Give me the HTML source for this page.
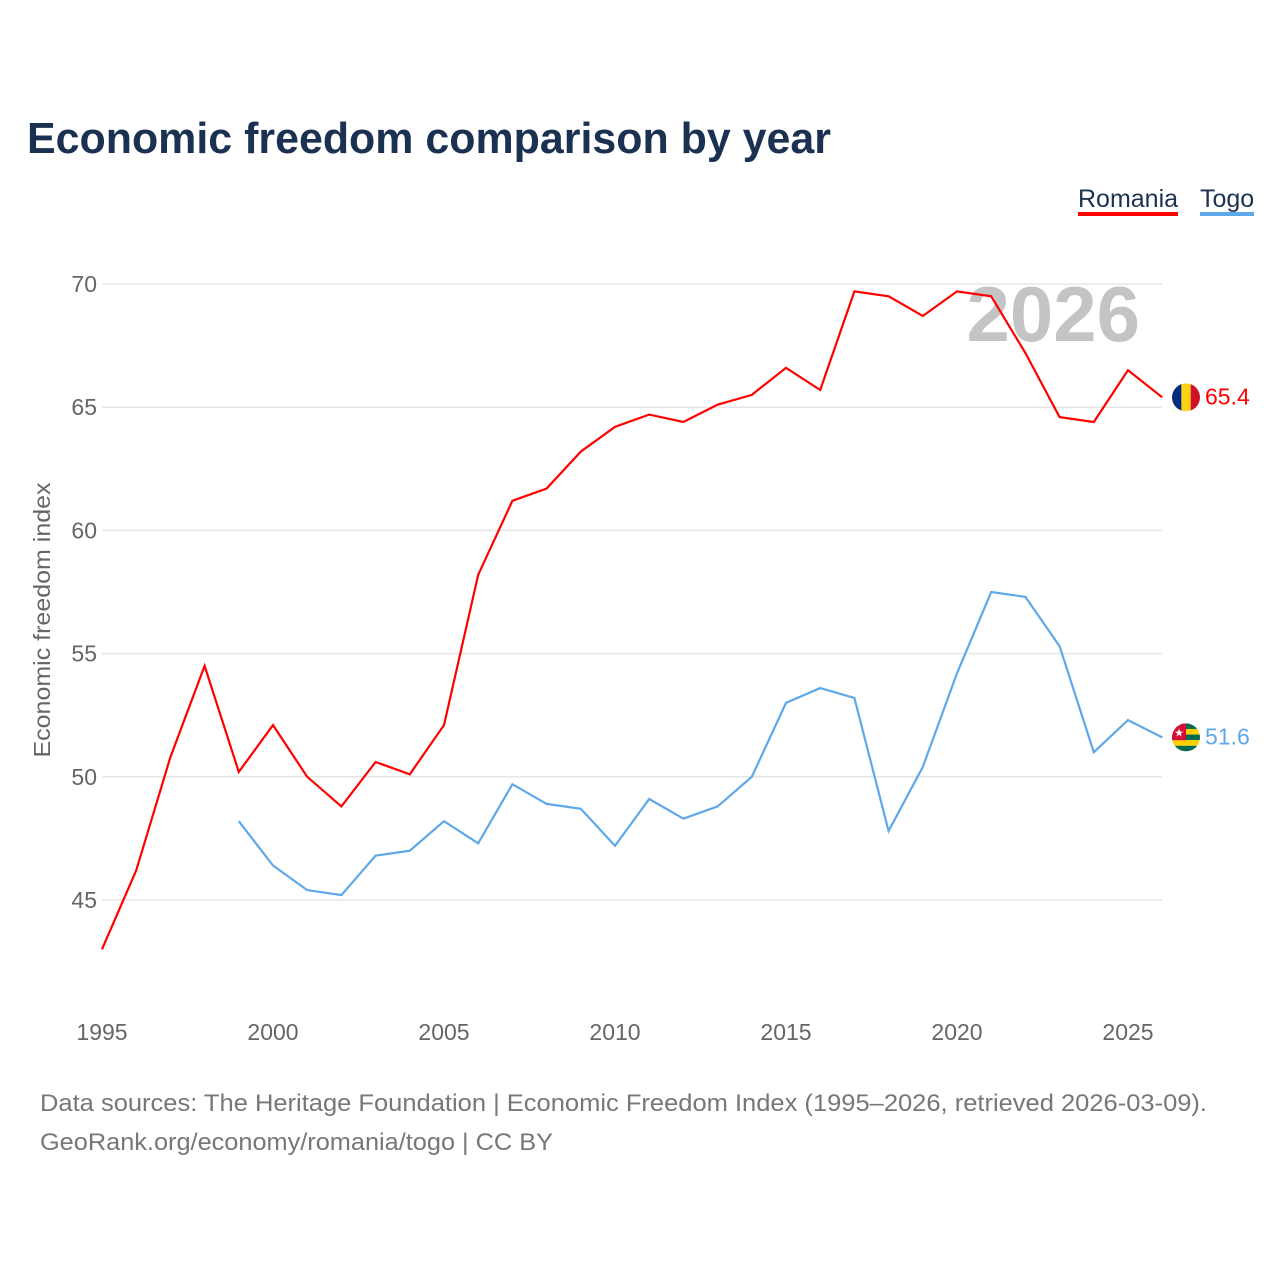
<!DOCTYPE html>
<html><head><meta charset="utf-8">
<style>
body{margin:0;background:#fff;font-family:"Liberation Sans",sans-serif;}
svg{display:block}
</style></head>
<body>
<svg id="chart" width="1280" height="1280" viewBox="0 0 1280 1280">
<text x="27" y="153" font-size="44" font-weight="bold" fill="#1b3152" textLength="804" lengthAdjust="spacingAndGlyphs">Economic freedom comparison by year</text>
<g>
<text x="1078" y="207" font-size="25" fill="#1b3152">Romania</text>
<rect x="1078" y="212" width="100" height="4" fill="#ff0000"/>
<text x="1200" y="207" font-size="25" fill="#1b3152">Togo</text>
<rect x="1200" y="212" width="54" height="4" fill="#5ea8ea"/>
</g>
<text x="1140" y="341" font-size="78" font-weight="bold" fill="#c4c4c4" text-anchor="end">2026</text>
<g id="grid"></g><g id="xt"></g><g id="lines"></g>
<text transform="translate(50,620) rotate(-90)" font-size="23" fill="#666" text-anchor="middle" textLength="275" lengthAdjust="spacingAndGlyphs">Economic freedom index</text>
<text x="40" y="1111" font-size="24" fill="#777" textLength="1167" lengthAdjust="spacingAndGlyphs">Data sources: The Heritage Foundation | Economic Freedom Index (1995–2026, retrieved 2026-03-09).</text>
<text x="40" y="1150" font-size="24" fill="#777" textLength="513" lengthAdjust="spacingAndGlyphs">GeoRank.org/economy/romania/togo | CC BY</text>
</svg>
<script>
const years=[1995,1996,1997,1998,1999,2000,2001,2002,2003,2004,2005,2006,2007,2008,2009,2010,2011,2012,2013,2014,2015,2016,2017,2018,2019,2020,2021,2022,2023,2024,2025,2026];
const romania=[43.0,46.2,50.8,54.5,50.2,52.1,50.0,48.8,50.6,50.1,52.1,58.2,61.2,61.7,63.2,64.2,64.7,64.4,65.1,65.5,66.6,65.7,69.7,69.5,68.7,69.7,69.5,67.2,64.6,64.4,66.5,65.4];
const togo=[null,null,null,null,48.2,46.4,45.4,45.2,46.8,47.0,48.2,47.3,49.7,48.9,48.7,47.2,49.1,48.3,48.8,50.0,53.0,53.6,53.2,47.8,50.4,54.2,57.5,57.3,55.3,51.0,52.3,51.6];
const yTicks=[45,50,55,60,65,70];
const xTicks=[1995,2000,2005,2010,2015,2020,2025];
const NS="http://www.w3.org/2000/svg";
const X=y=>102+(y-1995)*34.2;
const Y=v=>284+(70-v)*24.64;
function mk(t,a,p){const e=document.createElementNS(NS,t);for(const k in a)e.setAttribute(k,a[k]);p.appendChild(e);return e;}
const g=document.getElementById('grid');
yTicks.forEach(v=>{
 const l=mk('line',{x1:102,x2:1162,y1:Y(v),y2:Y(v),stroke:'#e6e6e6','stroke-width':1.5},g);
 
 
 const t=mk('text',{x:97,y:Y(v)+8,'font-size':23,fill:'#666','text-anchor':'end'},g);
 t.textContent=v;
 
 
});
const xt=document.getElementById('xt');
xTicks.forEach(v=>{
 const t=mk('text',{x:X(v),y:1040,'font-size':23,fill:'#666','text-anchor':'middle'},xt);
 t.textContent=v;
 
 
});
const L=document.getElementById('lines');
function series(vals,color,name,flag){
 let d='';vals.forEach((v,i)=>{if(v==null)return;d+=(d?'L':'M')+X(years[i]).toFixed(1)+','+Y(v).toFixed(1);});
 const p=mk('path',{d:d,fill:'none',stroke:color,'stroke-width':2.2},L);
 
 
 const last=vals[vals.length-1];
 const cx=1186,cy=Y(last);
 const fg=mk('g',{},L);
 
 
 const cp=mk('clipPath',{id:'c'+name},fg);mk('circle',{cx:cx,cy:cy,r:14},cp);
 const inner=mk('g',{'clip-path':'url(#c'+name+')'},fg);
 flag(inner,cx,cy);
 const t=mk('text',{x:1205,y:cy+7,'font-size':23,fill:color},L);
 t.textContent=last.toFixed(1);
 
 
}
series(romania,'#ff0000','romania',(g,cx,cy)=>{
 mk('rect',{x:cx-14,y:cy-14,width:10,height:28,fill:'#002b7f'},g);
 mk('rect',{x:cx-4.7,y:cy-14,width:9.4,height:28,fill:'#fcd116'},g);
 mk('rect',{x:cx+4.7,y:cy-14,width:10,height:28,fill:'#ce1126'},g);
});
series(togo,'#5ea8ea','togo',(g,cx,cy)=>{
 for(let i=0;i<5;i++)mk('rect',{x:cx-14,y:cy-14+i*5.6,width:28,height:5.6,fill:i%2?'#ffce00':'#006a4e'},g);
 mk('rect',{x:cx-14,y:cy-14,width:14,height:16.8,fill:'#d21034'},g);
 mk('text',{x:cx-7,y:cy-1,'font-size':11,fill:'#fff','text-anchor':'middle'},g).textContent='★';
});
</script>
</body></html>
